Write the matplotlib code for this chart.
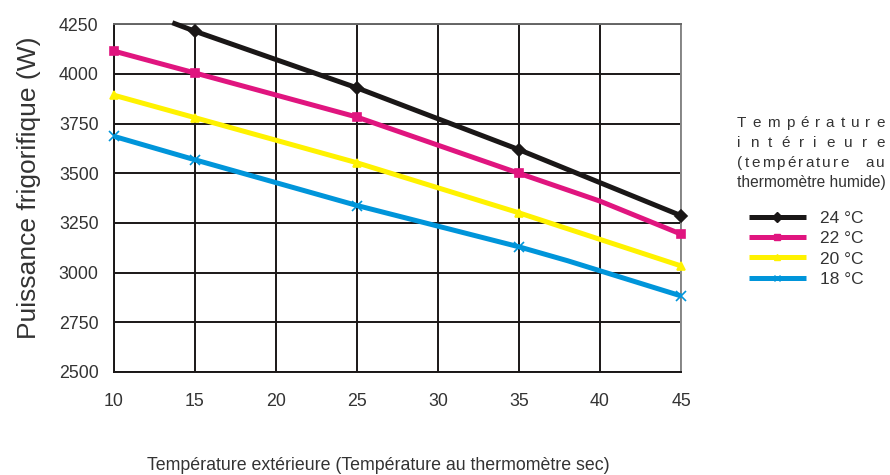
import matplotlib
matplotlib.use("Agg")
import matplotlib.pyplot as plt
from matplotlib.lines import Line2D

plt.rcParams["font.family"] = ["Liberation Sans", "DejaVu Sans"]

# outdoor dry-bulb temperature (°C) and cooling capacity (W) per indoor wet-bulb temperature
x_24 = [13.6, 15, 25, 35, 45]
y_24 = [4258, 4215, 3930, 3619, 3287]
x_22 = [10, 15, 25, 35, 40, 45]
y_22 = [4115, 4005, 3783, 3500, 3360, 3194]
x_20 = [10, 15, 25, 35, 45]
y_20 = [3893, 3780, 3553, 3301, 3034]
x_18 = [10, 15, 25, 35, 38, 45]
y_18 = [3686, 3568, 3338, 3130, 3060, 2883]

labels = ["24 °C", "22 °C", "20 °C", "18 °C"]
colors = ["#1a1717", "#e0157f", "#fff200", "#0095da"]
markers = ["D", "s", "^", "x"]
marker_at = [[15, 25, 35, 45], [10, 15, 25, 35, 45], [10, 15, 25, 35, 45], [10, 15, 25, 35, 45]]

x_ticks = [10, 15, 20, 25, 30, 35, 40, 45]
y_ticks = [2500, 2750, 3000, 3250, 3500, 3750, 4000, 4250]

W, H = 890, 475
fig = plt.figure(figsize=(W / 100, H / 100), dpi=100)
ax = fig.add_axes([114 / W, 1 - 372 / H, (681 - 114) / W, (372 - 24.3) / H])

ax.set_xlim(10, 45)
ax.set_ylim(2500, 4250)
ax.set_xticks(x_ticks)
ax.set_yticks(y_ticks)
ax.grid(True, color="#1a1717", linewidth=1.4)
ax.set_axisbelow(True)
ax.tick_params(length=0, labelsize=12.8, colors="#333333")
ax.tick_params(axis="x", pad=15)
ax.tick_params(axis="y", pad=11)
for s in ax.spines.values():
    s.set_color("#1a1717")
    s.set_linewidth(1.4)
ax.spines["top"].set_color("#666666")
ax.spines["right"].set_color("#888888")

series = [(x_24, y_24), (x_22, y_22), (x_20, y_20), (x_18, y_18)]
for (xs, ys), c, m, mk, lab in zip(series, colors, markers, marker_at, labels):
    ax.plot(xs, ys, color=c, linewidth=3.6, solid_capstyle="butt", clip_on=False,
            zorder=3)
    idx = [xs.index(v) for v in mk]
    ax.plot([xs[i] for i in idx], [ys[i] for i in idx], linestyle="none", marker=m,
            color=c, markersize=6 if m != "x" else 7, markeredgewidth=1.2,
            clip_on=False, zorder=4)

fig.text(29 / W, 1 - 188 / H, "Puissance frigorifique (W)", rotation=90,
         ha="center", va="center", fontsize=19, color="#333333")
fig.text(378 / W, 1 - 465 / H, "Température extérieure (Température au thermomètre sec)",
         ha="center", va="center", fontsize=12.8, color="#333333")


def justify(s, x0, x1, y, letter_gap=None, **kw):
    # place characters one by one so the line fills x0..x1 (pixels)
    r = fig.canvas.get_renderer()
    chars = list(s)
    texts, widths = [], []
    for ch in chars:
        if ch == " ":
            texts.append(None)
            widths.append(0)
            continue
        t = fig.text(0, 1 - y / H, ch, va="center", ha="left", **kw)
        texts.append(t)
        widths.append(t.get_window_extent(r).width)
    n_spaces = chars.count(" ")
    n_pairs = len(chars) - 1 - 2 * n_spaces
    free = (x1 - x0) - sum(widths)
    if letter_gap is None:
        letter_gap = free / max(n_pairs, 1)
        word_gap = letter_gap
    else:
        word_gap = (free - letter_gap * n_pairs) / max(n_spaces, 1)
    x = x0
    for i, (t, w) in enumerate(zip(texts, widths)):
        if t is None:
            continue
        t.set_x(x / W)
        x += w
        if i + 1 < len(chars):
            x += word_gap if chars[i + 1] == " " else letter_gap


title_kw = dict(fontsize=11, color="#333333")
justify("Température", 737, 885, 123, **title_kw)
justify("intérieure", 737, 885, 143, **title_kw)
justify("(température au", 737, 885, 163, letter_gap=2.2, **title_kw)
fig.text(737 / W, 1 - 183 / H, "thermomètre humide)", va="center", ha="left",
         fontsize=11.2, color="#333333")

handles = [Line2D([], [], color=c, linewidth=3.6, marker=m, markersize=5,
                  solid_capstyle="butt")
           for c, m in zip(colors, markers)]
fig.legend(handles, labels, loc="upper left", bbox_to_anchor=(740 / W, 1 - 202 / H),
           frameon=False, fontsize=12.5, handlelength=3.3, handletextpad=0.8,
           labelspacing=0.3, borderpad=0, labelcolor="#333333")

fig.savefig("out.png", dpi=100)
